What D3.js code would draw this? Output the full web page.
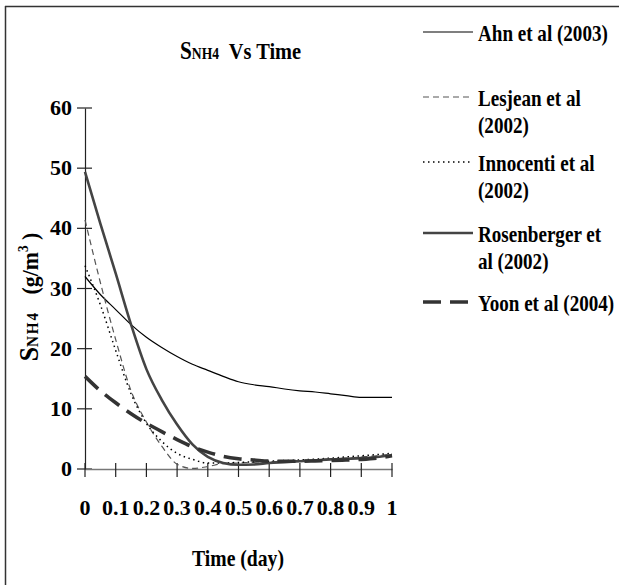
<!DOCTYPE html>
<html><head><meta charset="utf-8">
<script src="https://cdn.jsdelivr.net/npm/d3@7"></script>
<style>body{margin:0;background:#fff}svg{display:block}</style>
</head><body>
<svg id="c" width="619" height="585"></svg>
<script>
// ---- data ----
const time = [0,0.05,0.1,0.15,0.2,0.25,0.3,0.35,0.4,0.45,0.5,0.55,0.6,0.65,0.7,0.75,0.8,0.85,0.9,0.95,1];
const ahn = [32,29.0,26.5,24.0,21.9,20.2,18.7,17.4,16.4,15.4,14.5,14.0,13.7,13.3,13.0,12.8,12.5,12.2,11.9,11.9,11.9];
const lesjean = [41.4,31,21.5,13,7.8,3.8,0.8,0.1,0.4,0.9,1.0,1.1,1.2,1.3,1.4,1.5,1.7,1.8,2.0,2.2,2.5];
const innocenti = [33.8,27.3,19.7,12.5,7.6,4.6,2.6,1.6,1.0,1.0,1.1,1.2,1.3,1.4,1.5,1.65,1.8,2.0,2.2,2.4,2.6];
const rosenberger = [49.4,40.8,32.5,24.0,16.6,11.5,7.4,4.1,2.0,1.0,0.7,0.75,1.0,1.15,1.3,1.45,1.6,1.7,1.8,2.0,2.3];
const yoon = [15.4,13.0,11.0,9.2,7.6,6.2,4.9,3.7,2.8,2.1,1.7,1.5,1.3,1.3,1.3,1.35,1.4,1.5,1.6,1.8,2.2];
const xTicks = [0,0.1,0.2,0.3,0.4,0.5,0.6,0.7,0.8,0.9,1];
const xTickLabels = ["0","0.1","0.2","0.3","0.4","0.5","0.6","0.7","0.8","0.9","1"];
const yTicks = [0,10,20,30,40,50,60];
const seriesNames = ["Ahn et al (2003)", "Lesjean et al|(2002)", "Innocenti et al|(2002)", "Rosenberger et|al (2002)", "Yoon et al (2004)"];

const series = [
  {name: seriesNames[0], values: ahn, color:"#000", width:1.2, dash:null, ly:32},
  {name: seriesNames[1], values: lesjean, color:"#555", width:1.2, dash:"6,4", ly:97},
  {name: seriesNames[2], values: innocenti, color:"#000", width:1.5, dash:"1.5,3.5", ly:162},
  {name: seriesNames[3], values: rosenberger, color:"#444", width:2.6, dash:null, ly:233},
  {name: seriesNames[4], values: yoon, color:"#333", width:3.6, dash:"18,9", ly:302}
];

const FONT = "Liberation Serif";
const svg = d3.select("#c");
const x = d3.scaleLinear().domain([0,1]).range([85,392]);
const y = d3.scaleLinear().domain([0,60]).range([469,108]);

// frame
svg.append("line").attr("x1",5.5).attr("x2",5.5).attr("y1",6).attr("y2",585).attr("stroke","#333").attr("stroke-width",1.5);
svg.append("line").attr("x1",5).attr("x2",619).attr("y1",6.5).attr("y2",6.5).attr("stroke","#333").attr("stroke-width",1.5);

function stext(px, py, sx, anchor) {
  return svg.append("g").attr("transform",`translate(${px},${py}) scale(${sx},1)`)
    .append("text").attr("font-family",FONT).attr("font-weight","bold").attr("text-anchor",anchor||"start").attr("fill","#000");
}

// title
const t = stext(180,59,0.85,"start").attr("xml:space","preserve");
t.append("tspan").attr("font-size",25).text("S");
t.append("tspan").attr("font-size",16).text("NH4");
t.append("tspan").attr("font-size",24).text("  Vs Time");

// axes
const yAxis = d3.axisLeft(y).tickValues(yTicks).tickSize(0).tickFormat("");
svg.append("g").attr("transform","translate(85,0)").call(yAxis).select(".domain").attr("stroke","#222").attr("stroke-width",1.2);
svg.selectAll(".ytick").data(yTicks).enter().append("line")
  .attr("x1",77).attr("x2",92).attr("y1",d=>y(d)).attr("y2",d=>y(d)).attr("stroke","#222").attr("stroke-width",1.2);
const xAxis = d3.axisBottom(x).tickValues(xTicks).tickSize(0).tickFormat("");
svg.append("g").attr("transform","translate(0,469)").call(xAxis).select(".domain").attr("stroke","#777").attr("stroke-width",1.4);
svg.selectAll(".xtick").data(xTicks).enter().append("line")
  .attr("x1",d=>x(d)).attr("x2",d=>x(d)).attr("y1",463).attr("y2",477).attr("stroke","#222").attr("stroke-width",1.2);

// tick labels
svg.selectAll(".yl").data(yTicks).enter().append("text")
  .attr("x",72).attr("y",d=>y(d)+7).attr("text-anchor","end")
  .attr("font-family",FONT).attr("font-weight","bold").attr("font-size",22).text(d=>d);
svg.selectAll(".xl").data(xTicks).enter().append("text")
  .attr("x",d=>x(d)).attr("y",515).attr("text-anchor","middle")
  .attr("font-family",FONT).attr("font-weight","bold").attr("font-size",22).text((d,i)=>xTickLabels[i]);

// axis titles
stext(238,566,0.82,"middle").attr("font-size",24).text("Time (day)");
const yl = svg.append("g").attr("transform","translate(38,297) rotate(-90) scale(0.95,1)")
  .append("text").attr("font-family",FONT).attr("font-weight","bold").attr("text-anchor","middle").attr("xml:space","preserve");
yl.append("tspan").attr("font-size",27).text("S");
yl.append("tspan").attr("font-size",16).attr("letter-spacing",2).text("NH4");
yl.append("tspan").attr("font-size",23).text("   (g/m");
yl.append("tspan").attr("font-size",14).attr("dy",-10).text("3");
yl.append("tspan").attr("font-size",23).attr("dy",10).text(" )");

// lines
const line = d3.line().x((d,i)=>x(time[i])).y(d=>y(d)).curve(d3.curveMonotoneX);
series.forEach(s=>{
  svg.append("path").attr("d",line(s.values)).attr("fill","none")
    .attr("stroke",s.color).attr("stroke-width",s.width).attr("stroke-dasharray",s.dash);
});

// legend
series.forEach(s=>{
  svg.append("line").attr("x1",423).attr("x2",473).attr("y1",s.ly).attr("y2",s.ly)
    .attr("stroke",s.color).attr("stroke-width",s.width).attr("stroke-dasharray",s.dash);
  s.name.split("|").forEach((part,k)=>{
    stext(478, s.ly+8.5+k*27, 0.83,"start").attr("font-size",23).text(part);
  });
});
</script>
</body></html>
